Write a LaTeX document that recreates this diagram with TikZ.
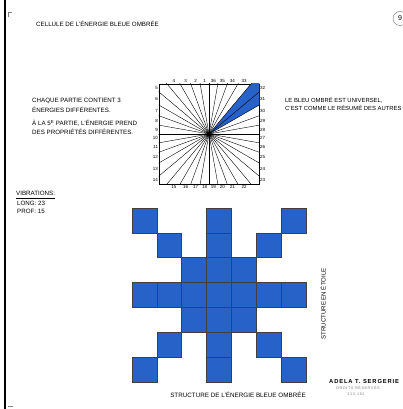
\documentclass[tikz,border=0pt]{standalone}
\usepackage{fontspec}
\setmainfont{Liberation Sans}
\newfontfamily\signfont[LetterSpace=15]{Liberation Sans}
\usepackage{xcolor}
\usetikzlibrary{calc}
\definecolor{starblue}{RGB}{38,98,200}
\newcommand{\cellsz}{24.86}

\begin{document}
\begin{tikzpicture}[x=1pt, y=1pt,
    hand/.style={anchor=base west, inner sep=0pt, font=\fontsize{6.2}{7}\selectfont},
    num/.style={inner sep=0.8pt, font=\fontsize{4.5}{5}\selectfont},
    ray/.style={line width=0.4pt},
    cell/.style={draw=black!75, line width=0.5pt, fill=starblue, minimum size=\cellsz pt,
    inner sep=0pt, outer sep=0pt}
  ]
  \useasboundingbox (0,0) rectangle (402,409);
  % page edge, corner marks and page number
  \draw[line width=2pt] (5,0) -- (5,409);
  \draw[black!50, line width=0.5pt] (8,392) -- (8,397) -- (12,397);
  \draw[black!50, line width=0.5pt] (8,3) -- (13,3);
  \node[draw=black!60, circle, minimum size=14pt, inner sep=0pt,
    font=\fontsize{7}{8}\selectfont] (page) at (400,390.5) {9};

  \node[hand] (title) at (36,382.5) {CELLULE DE L'ÉNERGIE BLEUE OMBRÉE};

  \node[hand] (left1) at (32,306.5) {CHAQUE PARTIE CONTIENT 3};
  \node[hand] (left2) at (32,296.5) {ÉNERGIES DIFFÉRENTES.};
  \node[hand] (left3) at (32,283)   {À LA 5\textsuperscript{E} PARTIE, L'ÉNERGIE PREND};
  \node[hand] (left4) at (32,274)   {DES PROPRIÉTÉS DIFFÉRENTES.};

  \node[hand, font=\fontsize{5.9}{7}\selectfont] (right1) at (285,306) {LE BLEU OMBRÉ EST UNIVERSEL,};
  \node[hand, font=\fontsize{5.9}{7}\selectfont] (right2) at (285,298) {C'EST COMME LE RÉSUMÉ DES AUTRES};

  \node[hand] (vib)  at (16,213)   {VIBRATIONS:};
  \draw[line width=0.5pt] ([yshift=-2pt]vib.base west) -- ([yshift=-2pt]vib.base east);
  \node[hand] (long) at (17,203.5) {LONG: 23};
  \node[hand] (prof) at (17,195.5) {PROF: 15};

  % square cut in 36 parts
  \node[draw, line width=0.6pt, minimum size=100pt, inner sep=0pt] (sq) at (209,275) {};
  \coordinate (c) at (sq.center);
  \begin{scope}
    \clip (sq.south west) rectangle (sq.north east);
    \fill[starblue] (c) -- ($(c)+(30:100)$) -- ($(c)+(50:100)$) -- cycle;
    \foreach \a in {0,10,...,350}
      \draw[ray] (c) -- ++(\a:90);
  \end{scope}
  \fill (c) circle (2.5);

  \foreach \n/\m in {4/125,3/115,2/105,1/95,36/85,35/75,34/65,33/55}
    \node[num, anchor=south] (t\n) at ($(c)+({50*cot(\m)},50)$) {\n};
  \foreach \n/\m in {15/125,16/115,17/105,18/95,19/85,20/75,21/65,22/55}
    \node[num, anchor=north] (b\n) at ($(c)+({50*cot(\m)},-50)$) {\n};
  \foreach \n/\m in {5/42.5,6/35,7/25,8/15,9/5,10/-5,11/-15,12/-25,13/-35,14/-42.5}
    \node[num, anchor=east] (l\n) at ($(c)+(-50,{50*tan(\m)})$) {\n};
  \foreach \n/\m in {32/42.5,31/35,30/25,29/15,28/5,27/-5,26/-15,25/-25,24/-35,23/-42.5}
    \node[num, anchor=west] (r\n) at ($(c)+(50,{50*tan(\m)})$) {\n};

  % star of blue cells, column/row from the top left corner
  \coordinate (g) at (132,201);
  \foreach \i/\j in {0/0,3/0,6/0,1/1,3/1,5/1,2/2,3/2,4/2,0/3,1/3,2/3,3/3,4/3,5/3,6/3,
      2/4,3/4,4/4,1/5,3/5,5/5,0/6,3/6,6/6}
    \node[cell] (s\i\j) at ($(g)+({(\i+0.5)*\cellsz},{-(\j+0.5)*\cellsz})$) {};

  \node[hand, anchor=base, font=\fontsize{6.3}{7}\selectfont] (caption) at (238,11.5)
    {STRUCTURE DE L'ÉNERGIE BLEUE OMBRÉE};
  \node[rotate=90, inner sep=0pt, font=\fontsize{6.1}{7}\selectfont] (etoile) at (323,105)
    {STRUCTURE EN ÉTOILE};

  \node[anchor=base west, inner sep=0pt, font=\signfont\bfseries\fontsize{5.8}{7}\selectfont]
    (sign) at (329,25) {ADELA T. SERGERIE};
  \node[anchor=base, inner sep=0pt, text=black!50, font=\signfont\fontsize{3.8}{4}\selectfont]
    (droits) at (358,19) {DROITS RÉSERVÉS};
  \node[anchor=base, inner sep=0pt, text=black!50, font=\signfont\fontsize{3.8}{4}\selectfont]
    (numero) at (356,13) {213,162};
\end{tikzpicture}
\end{document}
